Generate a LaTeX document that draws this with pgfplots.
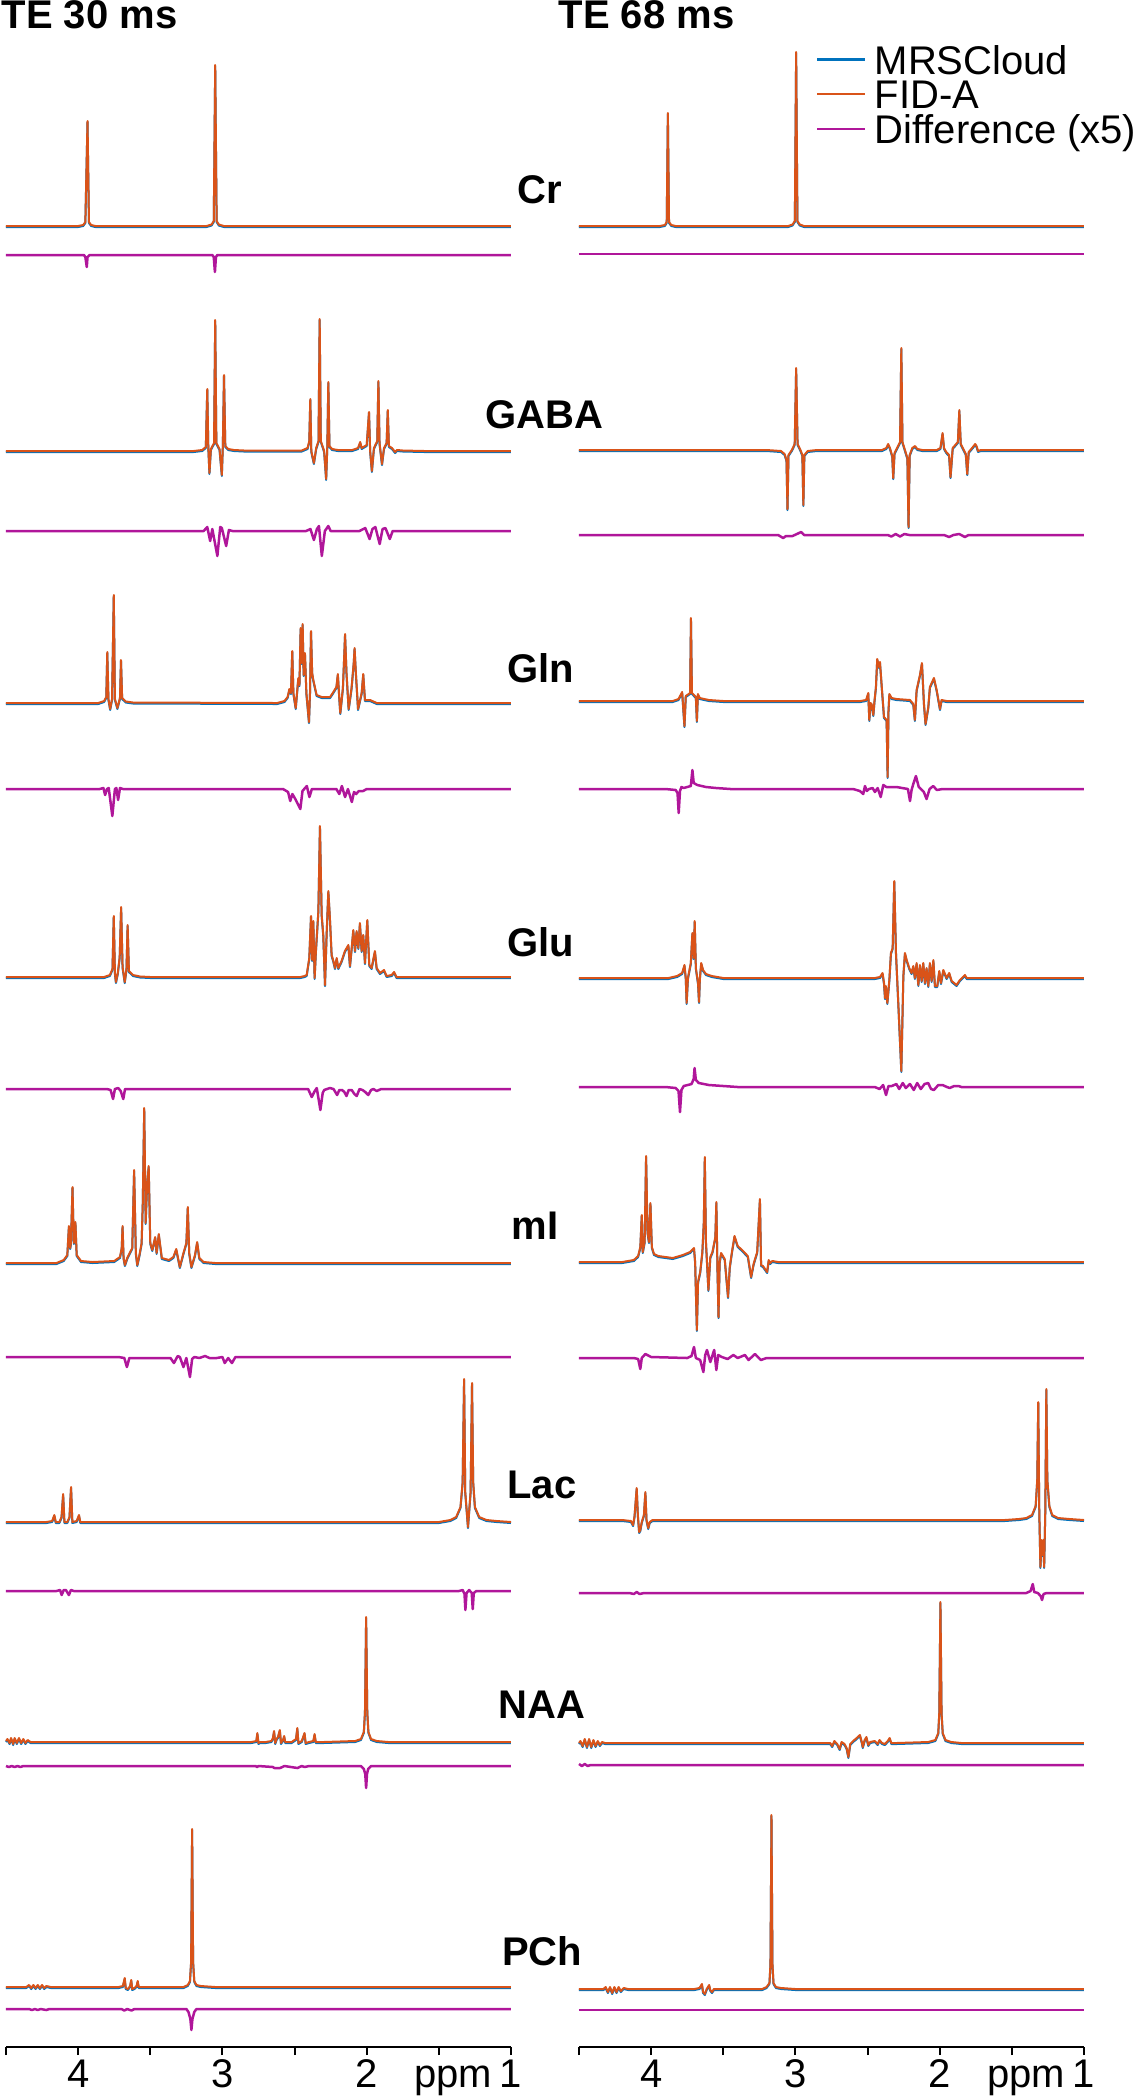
\documentclass[border=0pt]{standalone}
\usepackage{fontspec}
\setmainfont{Liberation Sans}
\usepackage{pgfplots}
\usepackage{pgfplotstable}
\pgfplotsset{compat=1.18}

\definecolor{mrs}{HTML}{0072BD}
\definecolor{fida}{HTML}{D95319}
\definecolor{dif}{HTML}{B0169A}
\newcommand{\lbl}{\fontsize{12}{14}\selectfont}

% one axis per TE column, y in picture rows (each spectrum shifted to its baseline)
\pgfplotsset{
  colax/.style={
    scale only axis, width=151.5pt, height=614.1pt,
    xmin=1, xmax=4.5, x dir=reverse, ymin=-2047, ymax=0,
    axis x line*=bottom, axis y line=none,
    xtick={4,3,2,1}, minor xtick={4.5,3.5,2.5,1.5}, xticklabel={\relax},
    tick align=outside, major tick length=2.4pt, minor tick length=2.4pt,
    every tick/.style={black, line width=0.6pt},
    axis line style={black, line width=0.8pt},
    clip=false,
  },
  mrsline/.style={mrs, line width=0.6pt, line join=round},
  fidaline/.style={fida, line width=0.6pt, line join=round},
  difline/.style={dif, line width=0.75pt, line join=round},
}
\newcommand{\specrow}[2]{%
  \addplot[mrsline] table[y expr=\thisrow{y}-#2-1]{#1};
  \addplot[fidaline] table[y expr=\thisrow{y}-#2]{#1};}
\newcommand{\diffrow}[2]{\addplot[difline] table[y expr=\thisrow{y}-#2]{#1};}
\newcommand{\ppmlabels}{%
  \pgfplotsinvokeforeach{4,3,2,1}{\node[anchor=base, font=\lbl] at (axis cs:##1,-2087) {##1};}
  \node[anchor=base, font=\lbl] at (axis cs:1.40,-2087) {ppm};}

\begin{document}
% ---- TE 30 ms ----
\pgfplotstableread[row sep=\\]{x y\\ 4.5 0\\ 4.00 0\\ 3.965 1\\ 3.95 4\\ 3.935 105\\ 3.925 4\\ 3.91 1\\ 3.88 0\\ 3.11 0\\ 3.075 1.5\\ 3.06 5\\ 3.05 161\\ 3.04 5\\ 3.025 1.5\\ 2.99 0\\ 1 0\\}\CrL
\pgfplotstableread[row sep=\\]{x y\\ 4.5 0\\ 3.96 0\\ 3.95 -2\\ 3.94 -12\\ 3.935 -2\\ 3.92 0\\ 3.07 0\\ 3.06 -2\\ 3.052 -17\\ 3.045 -2\\ 3.035 0\\ 1 0\\}\CrLd
\pgfplotstableread[row sep=\\]{x y\\ 4.5 0\\ 3.20 0\\ 3.14 1\\ 3.115 4\\ 3.105 62\\ 3.098 5\\ 3.09 -22\\ 3.08 2\\ 3.058 8\\ 3.05 131\\ 3.042 8\\ 3.02 2\\ 3.004 -24\\ 2.997 6\\ 2.989 76\\ 2.98 5\\ 2.96 2\\ 2.92 1\\ 2.85 0.5\\ 2.45 0.5\\ 2.41 3\\ 2.398 10\\ 2.391 52\\ 2.384 0\\ 2.366 -12\\ 2.35 3\\ 2.334 10\\ 2.326 132\\ 2.318 10\\ 2.295 0\\ 2.281 -28\\ 2.273 5\\ 2.266 69\\ 2.258 5\\ 2.24 2\\ 2.20 1\\ 2.10 1\\ 2.06 3\\ 2.045 9\\ 2.035 3\\ 2.00 6\\ 1.984 39\\ 1.976 0\\ 1.964 -20\\ 1.95 3\\ 1.927 10\\ 1.919 70\\ 1.911 8\\ 1.894 -13\\ 1.88 3\\ 1.862 8\\ 1.854 41\\ 1.846 5\\ 1.825 3\\ 1.803 -1\\ 1.79 1\\ 1.75 0.5\\ 1.60 0\\ 1 0\\}\GabaL
\pgfplotstableread[row sep=\\]{x y\\ 4.5 0\\ 3.13 0\\ 3.105 4\\ 3.085 -10\\ 3.07 2\\ 3.035 -25\\ 3.015 4\\ 3.004 3\\ 2.974 -15\\ 2.955 1\\ 2.93 0\\ 2.42 0\\ 2.39 2\\ 2.366 -9\\ 2.345 2\\ 2.331 5\\ 2.311 -25\\ 2.29 0\\ 2.266 5\\ 2.25 0\\ 2.05 0\\ 2.01 3\\ 1.98 -8\\ 1.96 2\\ 1.94 4\\ 1.91 -13\\ 1.89 2\\ 1.87 3\\ 1.84 -8\\ 1.82 0\\ 1 0\\}\GabaLd
\pgfplotstableread[row sep=\\]{x y\\ 4.5 0\\ 3.86 0\\ 3.82 2\\ 3.805 6\\ 3.798 51\\ 3.79 4\\ 3.778 -6\\ 3.765 4\\ 3.753 108\\ 3.745 4\\ 3.728 -5\\ 3.71 5\\ 3.703 43\\ 3.695 5\\ 3.67 1.5\\ 3.62 0.5\\ 2.62 0\\ 2.57 2\\ 2.548 6\\ 2.536 14\\ 2.525 10\\ 2.516 52\\ 2.508 10\\ 2.492 -5\\ 2.474 25\\ 2.466 18\\ 2.458 75\\ 2.451 40\\ 2.444 79\\ 2.437 28\\ 2.428 50\\ 2.418 10\\ 2.400 -19\\ 2.393 10\\ 2.386 72\\ 2.378 30\\ 2.370 23\\ 2.347 8\\ 2.312 6\\ 2.254 6\\ 2.231 11\\ 2.21 16\\ 2.200 29\\ 2.190 5\\ 2.183 -10\\ 2.165 15\\ 2.155 50\\ 2.150 69\\ 2.140 30\\ 2.125 -6\\ 2.105 15\\ 2.090 40\\ 2.084 55\\ 2.075 30\\ 2.060 -6\\ 2.035 10\\ 2.024 29\\ 2.012 3\\ 1.977 3\\ 1.93 0\\ 1 0\\}\GlnL
\pgfplotstableread[row sep=\\]{x y\\ 4.5 0\\ 3.85 0\\ 3.825 1\\ 3.813 -6\\ 3.80 0\\ 3.788 1\\ 3.763 -27\\ 3.745 0\\ 3.735 1\\ 3.723 -11\\ 3.71 1\\ 3.69 0\\ 2.58 0\\ 2.545 -3\\ 2.53 -12\\ 2.515 -5\\ 2.495 -10\\ 2.46 -20\\ 2.445 -2\\ 2.415 3\\ 2.397 -8\\ 2.38 0\\ 2.21 0\\ 2.19 -5\\ 2.172 3\\ 2.150 -8\\ 2.13 0\\ 2.103 -13\\ 2.088 -3\\ 2.073 -5\\ 2.055 -2\\ 2.025 -2\\ 2.00 0\\ 1 0\\}\GlnLd
\pgfplotstableread[row sep=\\]{x y\\ 4.5 0\\ 3.82 0\\ 3.78 2\\ 3.762 8\\ 3.753 61\\ 3.745 4\\ 3.738 -5\\ 3.725 4\\ 3.712 20\\ 3.702 70\\ 3.692 10\\ 3.677 -5\\ 3.665 8\\ 3.657 52\\ 3.648 6\\ 3.62 2\\ 3.57 0.5\\ 3.50 0\\ 2.46 0\\ 2.43 1\\ 2.416 2\\ 2.398 19\\ 2.386 61\\ 2.378 17\\ 2.370 56\\ 2.361 -1\\ 2.352 26\\ 2.335 66\\ 2.324 151\\ 2.312 62\\ 2.301 42\\ 2.289 -8\\ 2.278 42\\ 2.266 86\\ 2.255 59\\ 2.243 22\\ 2.231 16\\ 2.220 9\\ 2.208 19\\ 2.197 9\\ 2.174 16\\ 2.151 26\\ 2.127 32\\ 2.116 11\\ 2.104 29\\ 2.093 47\\ 2.081 26\\ 2.070 46\\ 2.058 29\\ 2.047 54\\ 2.035 26\\ 2.024 42\\ 2.012 14\\ 1.996 57\\ 1.982 12\\ 1.966 9\\ 1.943 26\\ 1.931 9\\ 1.908 4\\ 1.880 7\\ 1.862 1\\ 1.827 2\\ 1.81 5\\ 1.793 0\\ 1 0\\}\GluL
\pgfplotstableread[row sep=\\]{x y\\ 4.5 0\\ 3.80 0\\ 3.775 -1\\ 3.758 -10\\ 3.745 0\\ 3.722 1\\ 3.705 -2\\ 3.687 -10\\ 3.675 0\\ 3.65 0\\ 2.45 0\\ 2.406 0\\ 2.381 -8\\ 2.36 -2\\ 2.346 1\\ 2.321 -21\\ 2.305 -4\\ 2.295 -1\\ 2.255 1\\ 2.23 0\\ 2.205 -6\\ 2.19 -1\\ 2.17 -1\\ 2.155 -3\\ 2.14 -7\\ 2.125 -1\\ 2.104 -1\\ 2.085 -5\\ 2.069 -7\\ 2.05 0\\ 2.029 -1\\ 2.01 -3\\ 1.989 -6\\ 1.97 -1\\ 1.954 0\\ 1.93 -2\\ 1.90 0\\ 1 0\\}\GluLd
\pgfplotstableread[row sep=\\]{x y\\ 4.5 0\\ 4.15 0\\ 4.10 3\\ 4.075 8\\ 4.064 37\\ 4.055 15\\ 4.05 20\\ 4.039 76\\ 4.03 20\\ 4.019 41\\ 4.01 8\\ 3.98 2\\ 3.90 1\\ 3.75 2\\ 3.71 6\\ 3.698 15\\ 3.692 37\\ 3.685 5\\ 3.676 -2\\ 3.66 5\\ 3.625 15\\ 3.612 93\\ 3.60 10\\ 3.59 -2\\ 3.575 8\\ 3.56 20\\ 3.552 60\\ 3.542 155\\ 3.532 40\\ 3.523 75\\ 3.511 97\\ 3.50 20\\ 3.486 13\\ 3.466 26\\ 3.456 10\\ 3.441 29\\ 3.42 5\\ 3.37 3\\ 3.34 6\\ 3.32 14\\ 3.295 -4\\ 3.27 10\\ 3.25 20\\ 3.24 56\\ 3.23 10\\ 3.215 -4\\ 3.19 8\\ 3.175 21\\ 3.16 5\\ 3.13 1\\ 3.05 0\\ 1 0\\}\mIL
\pgfplotstableread[row sep=\\]{x y\\ 4.5 0\\ 3.72 0\\ 3.68 -1\\ 3.662 -10\\ 3.645 -1\\ 3.36 -1\\ 3.336 -6\\ 3.31 1\\ 3.295 0\\ 3.27 -10\\ 3.25 -1\\ 3.225 -20\\ 3.21 -2\\ 3.195 0\\ 3.16 -1\\ 3.12 1\\ 3.09 -1\\ 3.04 -1\\ 3.00 0\\ 2.984 -6\\ 2.96 -1\\ 2.934 -6\\ 2.91 0\\ 1 0\\}\mILd
\pgfplotstableread[row sep=\\]{x y\\ 4.5 0\\ 4.22 0\\ 4.18 1\\ 4.165 7\\ 4.155 0\\ 4.13 0\\ 4.115 5\\ 4.104 28\\ 4.095 0\\ 4.075 0\\ 4.06 5\\ 4.049 35\\ 4.04 0\\ 4.01 1\\ 3.994 7\\ 3.985 0\\ 3.95 0\\ 1.50 0\\ 1.42 2\\ 1.38 5\\ 1.35 15\\ 1.335 40\\ 1.325 143\\ 1.317 30\\ 1.298 -5\\ 1.28 30\\ 1.270 139\\ 1.262 40\\ 1.25 15\\ 1.22 5\\ 1.17 2\\ 1.10 1\\ 1 0\\}\LacL
\pgfplotstableread[row sep=\\]{x y\\ 4.5 0\\ 4.15 0\\ 4.125 1\\ 4.114 -4\\ 4.10 1\\ 4.085 1\\ 4.064 -4\\ 4.05 1\\ 4.03 0\\ 1.36 0\\ 1.335 1\\ 1.322 -3\\ 1.316 -19\\ 1.308 -2\\ 1.29 1\\ 1.272 -2\\ 1.265 -18\\ 1.258 -2\\ 1.24 0\\ 1 0\\}\LacLd
\pgfplotstableread[row sep=\\]{x y\\ 4.5 1\\ 4.49 3\\ 4.475 -1\\ 4.465 4\\ 4.45 -2\\ 4.44 4\\ 4.425 -1\\ 4.41 4\\ 4.395 -1\\ 4.38 3\\ 4.365 -1\\ 4.35 2\\ 4.33 0\\ 2.80 0\\ 2.765 1\\ 2.758 9\\ 2.75 -1\\ 2.74 0\\ 2.70 0\\ 2.66 1\\ 2.65 4\\ 2.642 11\\ 2.634 -1\\ 2.625 3\\ 2.615 5\\ 2.602 12\\ 2.594 -1\\ 2.58 2\\ 2.572 6\\ 2.565 0\\ 2.52 0\\ 2.49 3\\ 2.481 14\\ 2.473 -1\\ 2.45 1\\ 2.431 9\\ 2.423 -1\\ 2.40 0\\ 2.37 1\\ 2.361 8\\ 2.353 0\\ 2.30 0\\ 2.08 1\\ 2.04 3\\ 2.02 10\\ 2.012 30\\ 2.004 125\\ 1.996 30\\ 1.988 10\\ 1.97 3\\ 1.93 1\\ 1.85 0\\ 1 0\\}\NaaL
\pgfplotstableread[row sep=\\]{x y\\ 4.5 0\\ 4.48 -1\\ 4.46 0\\ 4.44 -1\\ 4.42 0\\ 4.40 -1\\ 4.38 0\\ 2.77 0\\ 2.76 -1\\ 2.75 0\\ 2.65 -1\\ 2.64 -2\\ 2.60 -2\\ 2.57 0\\ 2.48 -2\\ 2.45 0\\ 2.43 -1\\ 2.40 0\\ 2.04 0\\ 2.02 -3\\ 2.01 -8\\ 2.004 -22\\ 1.998 -8\\ 1.99 -3\\ 1.97 0\\ 1 0\\}\NaaLd
\pgfplotstableread[row sep=\\]{x y\\ 4.5 0\\ 4.36 0\\ 4.34 2\\ 4.325 -1\\ 4.31 2\\ 4.295 -1\\ 4.28 2\\ 4.265 -1\\ 4.25 2\\ 4.235 -1\\ 4.22 1\\ 4.19 0\\ 3.72 0\\ 3.69 1\\ 3.677 9\\ 3.67 -1\\ 3.655 -2\\ 3.64 1\\ 3.632 7\\ 3.625 -2\\ 3.61 -1\\ 3.595 1\\ 3.587 6\\ 3.58 0\\ 3.56 0\\ 3.27 0\\ 3.24 2\\ 3.225 6\\ 3.217 25\\ 3.21 158\\ 3.203 25\\ 3.195 6\\ 3.18 2\\ 3.15 1\\ 3.05 0\\ 1 0\\}\PchL
\pgfplotstableread[row sep=\\]{x y\\ 4.5 0\\ 4.34 0\\ 4.32 -1\\ 4.30 0\\ 4.28 -1\\ 4.26 0\\ 4.22 -1\\ 4.20 0\\ 3.70 0\\ 3.68 -1.5\\ 3.66 0\\ 3.63 -1.5\\ 3.61 0\\ 3.25 0\\ 3.235 -3\\ 3.222 -10\\ 3.215 -21\\ 3.208 -10\\ 3.195 -3\\ 3.18 0\\ 1 0\\}\PchLd
% ---- TE 68 ms ----
\pgfplotstableread[row sep=\\]{x y\\ 4.5 0\\ 3.94 0\\ 3.905 1\\ 3.892 4\\ 3.884 113\\ 3.876 4\\ 3.86 1\\ 3.83 0\\ 3.05 0\\ 3.02 1.5\\ 3.004 5\\ 2.995 174\\ 2.986 5\\ 2.97 1.5\\ 2.94 0\\ 1 0\\}\CrR
\pgfplotstableread[row sep=\\]{x y\\ 4.5 0\\ 1 0\\}\CrRd
\pgfplotstableread[row sep=\\]{x y\\ 4.5 0\\ 3.20 0\\ 3.10 -1\\ 3.075 -4\\ 3.062 -10\\ 3.055 -59\\ 3.048 -5\\ 3.025 0\\ 3.005 6\\ 2.995 82\\ 2.985 6\\ 2.965 0\\ 2.952 -5\\ 2.945 -55\\ 2.938 -5\\ 2.915 -1\\ 2.85 0\\ 2.40 0\\ 2.37 2\\ 2.357 6\\ 2.345 2\\ 2.329 -6\\ 2.322 -28\\ 2.313 -3\\ 2.275 8\\ 2.266 102\\ 2.258 8\\ 2.224 -8\\ 2.216 -77\\ 2.208 -5\\ 2.19 2\\ 2.171 4\\ 2.155 1\\ 2.12 0\\ 2.02 0\\ 1.995 2\\ 1.980 17\\ 1.970 2\\ 1.955 -2\\ 1.935 -5\\ 1.925 -27\\ 1.91 2\\ 1.874 8\\ 1.864 40\\ 1.854 6\\ 1.819 -4\\ 1.809 -24\\ 1.799 -2\\ 1.77 3\\ 1.754 6\\ 1.745 4\\ 1.734 -1\\ 1.715 0\\ 1 0\\}\GabaR
\pgfplotstableread[row sep=\\]{x y\\ 4.5 0\\ 3.12 0\\ 3.085 -3\\ 3.065 -1\\ 3.02 -1\\ 2.96 3\\ 2.94 0\\ 2.36 0\\ 2.335 -1.5\\ 2.305 1\\ 2.275 -1.5\\ 2.245 1\\ 2.21 0\\ 1.97 0\\ 1.935 -2\\ 1.905 0\\ 1.865 1\\ 1.825 -2\\ 1.80 0\\ 1 0\\}\GabaRd
\pgfplotstableread[row sep=\\]{x y\\ 4.5 0\\ 3.85 0\\ 3.81 2\\ 3.785 9\\ 3.769 -25\\ 3.76 5\\ 3.73 8\\ 3.724 83\\ 3.717 8\\ 3.69 4\\ 3.683 -20\\ 3.676 7\\ 3.663 3\\ 3.60 1\\ 3.50 0\\ 2.55 0\\ 2.51 1\\ 2.495 8\\ 2.488 -19\\ 2.480 -2\\ 2.472 -3\\ 2.460 -14\\ 2.452 0\\ 2.442 14\\ 2.433 42\\ 2.421 34\\ 2.414 39\\ 2.403 17\\ 2.386 -16\\ 2.368 -19\\ 2.361 -76\\ 2.355 -10\\ 2.349 7\\ 2.333 3\\ 2.299 2\\ 2.206 1\\ 2.183 -3\\ 2.172 -19\\ 2.160 11\\ 2.137 26\\ 2.123 38\\ 2.109 -3\\ 2.098 -23\\ 2.079 -6\\ 2.068 14\\ 2.040 23\\ 2.021 11\\ 1.998 -8\\ 1.987 1\\ 1.952 0\\ 1 0\\}\GlnR
\pgfplotstableread[row sep=\\]{x y\\ 4.5 0\\ 3.90 0\\ 3.83 -1\\ 3.817 -4\\ 3.809 -24\\ 3.80 -2\\ 3.79 2\\ 3.775 1\\ 3.725 3\\ 3.714 19\\ 3.705 6\\ 3.68 4\\ 3.62 2\\ 3.55 1\\ 3.45 0\\ 2.60 0\\ 2.553 -2\\ 2.530 -5\\ 2.518 3\\ 2.505 -2\\ 2.49 0\\ 2.465 1\\ 2.449 -3\\ 2.43 1\\ 2.409 -8\\ 2.391 4\\ 2.37 2\\ 2.30 2\\ 2.22 0\\ 2.206 -12\\ 2.195 -1\\ 2.183 5\\ 2.165 13\\ 2.145 2\\ 2.11 -3\\ 2.091 -10\\ 2.07 0\\ 2.045 3\\ 2.02 -1\\ 1.98 0\\ 1 0\\}\GlnRd
\pgfplotstableread[row sep=\\]{x y\\ 4.5 0\\ 3.88 0\\ 3.82 2\\ 3.785 5\\ 3.769 13\\ 3.76 0\\ 3.754 -25\\ 3.745 0\\ 3.725 15\\ 3.714 45\\ 3.705 20\\ 3.698 57\\ 3.69 10\\ 3.675 -5\\ 3.668 -24\\ 3.662 0\\ 3.653 15\\ 3.64 8\\ 3.62 4\\ 3.58 2\\ 3.50 0\\ 2.45 0\\ 2.414 1\\ 2.396 5\\ 2.386 -5\\ 2.379 -20\\ 2.373 -8\\ 2.363 -25\\ 2.349 -2\\ 2.338 25\\ 2.326 30\\ 2.315 97\\ 2.303 25\\ 2.287 -25\\ 2.266 -93\\ 2.252 2\\ 2.241 25\\ 2.229 18\\ 2.211 10\\ 2.195 5\\ 2.183 12\\ 2.172 0\\ 2.160 15\\ 2.148 -7\\ 2.137 13\\ 2.125 -3\\ 2.114 15\\ 2.102 -5\\ 2.091 10\\ 2.079 -8\\ 2.068 15\\ 2.056 -3\\ 2.044 18\\ 2.033 -8\\ 2.017 -8\\ 2.003 7\\ 1.991 -5\\ 1.975 8\\ 1.952 0\\ 1.934 5\\ 1.917 -3\\ 1.883 -7\\ 1.860 -2\\ 1.825 3\\ 1.813 0\\ 1 0\\}\GluR
\pgfplotstableread[row sep=\\]{x y\\ 4.5 0\\ 3.90 0\\ 3.83 -1\\ 3.81 -4\\ 3.80 -25\\ 3.79 -3\\ 3.774 1\\ 3.72 3\\ 3.705 8\\ 3.699 19\\ 3.69 7\\ 3.67 4\\ 3.60 2\\ 3.50 1\\ 3.40 0\\ 2.45 0\\ 2.417 -2\\ 2.392 2\\ 2.372 -8\\ 2.355 1\\ 2.332 1\\ 2.30 3\\ 2.281 -2\\ 2.256 4\\ 2.235 -1\\ 2.206 3\\ 2.18 -3\\ 2.156 4\\ 2.131 -2\\ 2.105 3\\ 2.080 4\\ 2.06 -2\\ 2.04 -3\\ 2.01 2\\ 1.98 2\\ 1.95 0\\ 1.93 -1\\ 1.90 1\\ 1.869 1\\ 1.85 0\\ 1 0\\}\GluRd
\pgfplotstableread[row sep=\\]{x y\\ 4.5 0\\ 4.20 0\\ 4.12 2\\ 4.09 6\\ 4.075 15\\ 4.065 47\\ 4.058 10\\ 4.045 20\\ 4.035 106\\ 4.025 30\\ 4.015 20\\ 4.005 59\\ 3.995 15\\ 3.98 8\\ 3.95 6\\ 3.85 4\\ 3.78 7\\ 3.73 10\\ 3.703 14\\ 3.695 0\\ 3.683 -68\\ 3.675 -20\\ 3.66 -10\\ 3.645 10\\ 3.635 40\\ 3.628 105\\ 3.62 20\\ 3.603 -28\\ 3.59 5\\ 3.575 10\\ 3.555 25\\ 3.548 60\\ 3.54 -10\\ 3.533 -55\\ 3.525 0\\ 3.515 9\\ 3.49 3\\ 3.467 -35\\ 3.455 -5\\ 3.44 10\\ 3.422 26\\ 3.40 16\\ 3.37 12\\ 3.35 9\\ 3.33 6\\ 3.307 -15\\ 3.29 -2\\ 3.265 10\\ 3.246 63\\ 3.238 -3\\ 3.225 -4\\ 3.196 -10\\ 3.185 2\\ 3.175 -1\\ 3.16 1\\ 3.12 0\\ 1 0\\}\mIR
\pgfplotstableread[row sep=\\]{x y\\ 4.5 0\\ 4.12 0\\ 4.09 -1\\ 4.075 -11\\ 4.065 0\\ 4.04 4\\ 4.00 1\\ 3.75 0\\ 3.72 2\\ 3.703 11\\ 3.69 0\\ 3.66 -2\\ 3.638 -14\\ 3.625 3\\ 3.613 8\\ 3.59 -4\\ 3.563 8\\ 3.548 -12\\ 3.535 3\\ 3.51 1\\ 3.47 -1\\ 3.43 3\\ 3.40 0\\ 3.35 3\\ 3.325 -2\\ 3.28 4\\ 3.24 -2\\ 3.20 0\\ 1 0\\}\mIRd
\pgfplotstableread[row sep=\\]{x y\\ 4.5 0\\ 4.20 0\\ 4.14 -1\\ 4.125 -5\\ 4.115 4\\ 4.100 32\\ 4.092 5\\ 4.083 -12\\ 4.075 -10\\ 4.065 -2\\ 4.05 5\\ 4.04 28\\ 4.032 0\\ 4.02 -8\\ 4.01 -2\\ 3.99 0\\ 1.55 0\\ 1.45 1\\ 1.40 2\\ 1.36 5\\ 1.335 14\\ 1.324 40\\ 1.317 118\\ 1.310 10\\ 1.302 -47\\ 1.293 -20\\ 1.288 -35\\ 1.282 -20\\ 1.276 -47\\ 1.268 10\\ 1.261 131\\ 1.254 40\\ 1.24 14\\ 1.22 5\\ 1.18 2\\ 1.10 1\\ 1 0\\}\LacR
\pgfplotstableread[row sep=\\]{x y\\ 4.5 0\\ 4.15 0\\ 4.12 -1\\ 4.10 1\\ 4.08 -1\\ 4.05 0\\ 1.40 0\\ 1.37 2\\ 1.355 9\\ 1.345 1\\ 1.32 0\\ 1.30 -3\\ 1.291 -7\\ 1.28 -1\\ 1.26 0\\ 1 0\\}\LacRd
\pgfplotstableread[row sep=\\]{x y\\ 4.5 0\\ 4.49 2\\ 4.475 -3\\ 4.46 4\\ 4.445 -4\\ 4.43 4\\ 4.415 -4\\ 4.40 3\\ 4.385 -3\\ 4.37 2\\ 4.355 -2\\ 4.34 1\\ 4.32 0\\ 2.78 0\\ 2.759 0\\ 2.745 -3\\ 2.73 2\\ 2.71 -1\\ 2.693 -6\\ 2.68 1\\ 2.66 -1\\ 2.645 -5\\ 2.633 -14\\ 2.62 -1\\ 2.60 2\\ 2.583 4\\ 2.553 8\\ 2.54 1\\ 2.533 -4\\ 2.52 3\\ 2.508 6\\ 2.495 -2\\ 2.482 1\\ 2.45 2\\ 2.43 -1\\ 2.417 3\\ 2.40 0\\ 2.38 -1\\ 2.36 2\\ 2.347 5\\ 2.335 0\\ 2.30 0\\ 2.08 1\\ 2.03 3\\ 2.01 10\\ 2.003 30\\ 1.995 141\\ 1.987 30\\ 1.979 10\\ 1.96 3\\ 1.92 1\\ 1.85 0\\ 1 0\\}\NaaR
\pgfplotstableread[row sep=\\]{x y\\ 4.5 1\\ 4.48 -1\\ 4.46 1\\ 4.44 -1\\ 4.42 0\\ 1 0\\}\NaaRd
\pgfplotstableread[row sep=\\]{x y\\ 4.5 0\\ 4.33 0\\ 4.315 2\\ 4.30 -3\\ 4.285 2\\ 4.27 -4\\ 4.255 2\\ 4.24 -3\\ 4.225 2\\ 4.21 -2\\ 4.19 1\\ 4.16 0\\ 3.70 0\\ 3.665 1\\ 3.648 5\\ 3.64 -3\\ 3.628 -5\\ 3.615 0\\ 3.598 4\\ 3.59 -1\\ 3.578 -3\\ 3.565 0\\ 3.23 0\\ 3.20 2\\ 3.18 6\\ 3.173 25\\ 3.166 174\\ 3.159 25\\ 3.152 6\\ 3.135 2\\ 3.10 1\\ 3.00 0\\ 1 0\\}\PchR
\pgfplotstableread[row sep=\\]{x y\\ 4.5 0\\ 1 0\\}\PchRd

\begin{tikzpicture}
\useasboundingbox (0,0) rectangle (341.1pt,-630pt);

\begin{axis}[colax, at={(1.8pt,0pt)}, anchor=north west]
  \specrow{\CrL}{226}   \diffrow{\CrLd}{255}
  \specrow{\GabaL}{451} \diffrow{\GabaLd}{531}
  \specrow{\GlnL}{703}  \diffrow{\GlnLd}{789}
  \specrow{\GluL}{977}  \diffrow{\GluLd}{1089}
  \specrow{\mIL}{1263}  \diffrow{\mILd}{1357}
  \specrow{\LacL}{1522} \diffrow{\LacLd}{1591}
  \specrow{\NaaL}{1742} \diffrow{\NaaLd}{1766}
  \specrow{\PchL}{1987} \diffrow{\PchLd}{2009}
  \ppmlabels
\end{axis}

\begin{axis}[colax, at={(173.7pt,0pt)}, anchor=north west]
  \specrow{\CrR}{226}   \diffrow{\CrRd}{254}
  \specrow{\GabaR}{450} \diffrow{\GabaRd}{535}
  \specrow{\GlnR}{701}  \diffrow{\GlnRd}{789}
  \specrow{\GluR}{978}  \diffrow{\GluRd}{1087}
  \specrow{\mIR}{1262}  \diffrow{\mIRd}{1358}
  \specrow{\LacR}{1520} \diffrow{\LacRd}{1593}
  \specrow{\NaaR}{1743} \diffrow{\NaaRd}{1765}
  \specrow{\PchR}{1989} \diffrow{\PchRd}{2010}
  \ppmlabels
\end{axis}

% titles, metabolite names and legend, in reference pixels
\begin{scope}[x=0.3pt, y=-0.3pt]
  \node[anchor=base west, inner sep=0pt, font=\lbl\bfseries] at (1,28.5) {TE 30 ms};
  \node[anchor=base west, inner sep=0pt, font=\lbl\bfseries] at (558,28.5) {TE 68 ms};
  \foreach \nm/\cx/\by in {Cr/540/203, GABA/544/428, Gln/541/682, Glu/541/956,
                          mI/535/1239, Lac/542/1498, NAA/542/1718, PCh/542/1965}
    \node[anchor=base, inner sep=0pt, font=\lbl\bfseries] at (\cx,\by) {\nm};
  \foreach \c/\txt/\by in {mrs/MRSCloud/74, fida/FID-A/108.5, dif/Difference (x5)/143.5} {
    \draw[\c, line width=0.7pt] (817,\by-14.5) -- (865,\by-14.5);
    \node[anchor=base west, inner sep=0pt, font=\lbl] at (874,\by) {\txt};
  }
\end{scope}
\end{tikzpicture}
\end{document}
